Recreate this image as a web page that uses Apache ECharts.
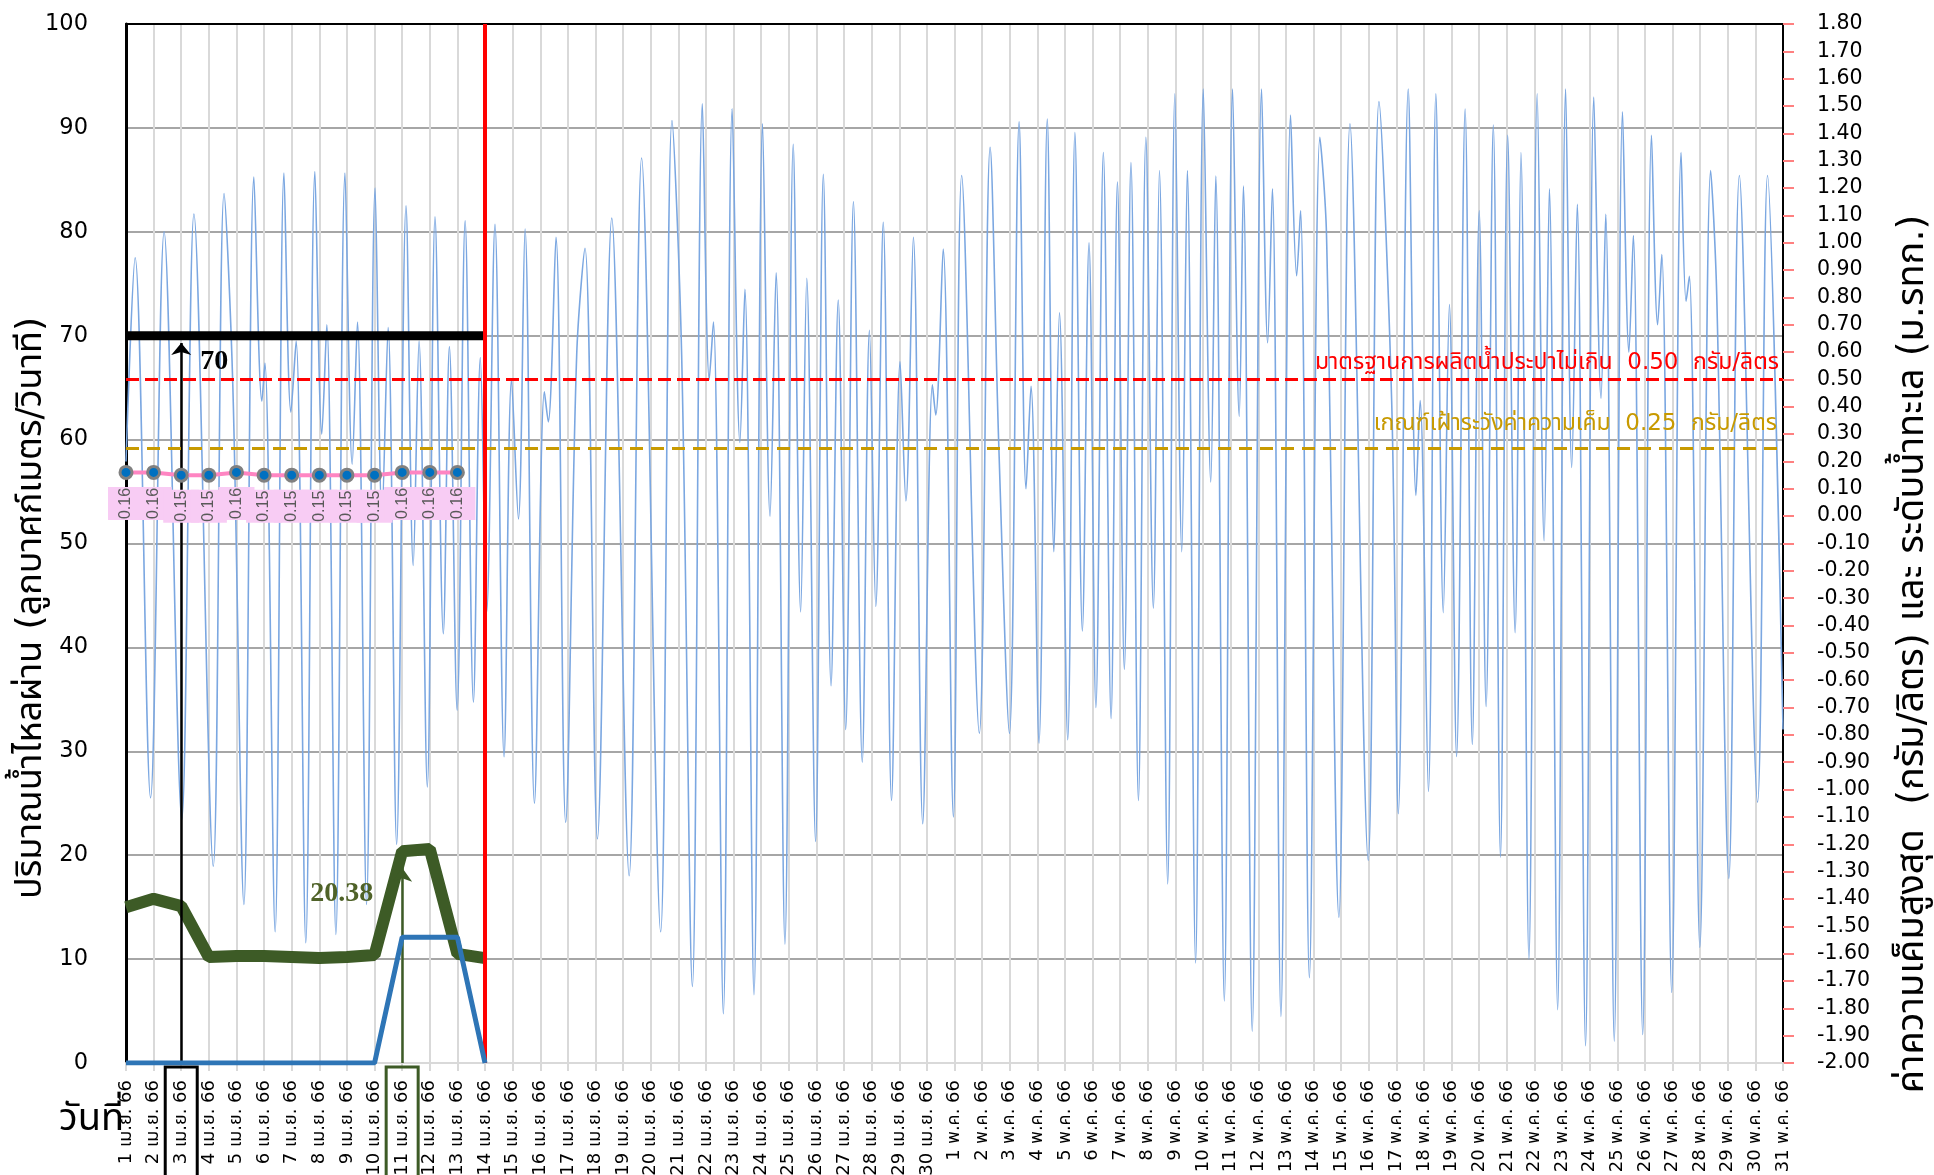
<!DOCTYPE html>
<html><head><meta charset="utf-8">
<script src="https://cdn.jsdelivr.net/npm/echarts@6/dist/echarts.min.js"></script>
<style>html,body{margin:0;padding:0;background:#fff}#c{width:1934px;height:1175px}</style>
</head><body><div id="c"></div>
<script>
// ---------- data ----------
const days = ['1 เม.ย. 66','2 เม.ย. 66','3 เม.ย. 66','4 เม.ย. 66','5 เม.ย. 66','6 เม.ย. 66','7 เม.ย. 66','8 เม.ย. 66','9 เม.ย. 66','10 เม.ย. 66',
'11 เม.ย. 66','12 เม.ย. 66','13 เม.ย. 66','14 เม.ย. 66','15 เม.ย. 66','16 เม.ย. 66','17 เม.ย. 66','18 เม.ย. 66','19 เม.ย. 66','20 เม.ย. 66',
'21 เม.ย. 66','22 เม.ย. 66','23 เม.ย. 66','24 เม.ย. 66','25 เม.ย. 66','26 เม.ย. 66','27 เม.ย. 66','28 เม.ย. 66','29 เม.ย. 66','30 เม.ย. 66',
'1 พ.ค. 66','2 พ.ค. 66','3 พ.ค. 66','4 พ.ค. 66','5 พ.ค. 66','6 พ.ค. 66','7 พ.ค. 66','8 พ.ค. 66','9 พ.ค. 66','10 พ.ค. 66',
'11 พ.ค. 66','12 พ.ค. 66','13 พ.ค. 66','14 พ.ค. 66','15 พ.ค. 66','16 พ.ค. 66','17 พ.ค. 66','18 พ.ค. 66','19 พ.ค. 66','20 พ.ค. 66',
'21 พ.ค. 66','22 พ.ค. 66','23 พ.ค. 66','24 พ.ค. 66','25 พ.ค. 66','26 พ.ค. 66','27 พ.ค. 66','28 พ.ค. 66','29 พ.ค. 66','30 พ.ค. 66','31 พ.ค. 66'];
const flow = [15.0, 15.8, 15.1, 10.2, 10.3, 10.3, 10.2, 10.1, 10.2, 10.4, 20.38, 20.6, 10.5, 10.1];
const release = [0, 0, 0, 0, 0, 0, 0, 0, 0, 0, 12.1, 12.1, 12.1, 0];
const salinity = [0.16, 0.16, 0.15, 0.15, 0.16, 0.15, 0.15, 0.15, 0.15, 0.15, 0.16, 0.16, 0.16];
const targetFlow = [70, 70, 70, 70, 70, 70, 70, 70, 70, 70, 70, 70, 70, 70];
const targetArrowTop = 69.3;
const flowArrowTop = 18.8;
const standardLimit = 0.50;
const watchLimit = 0.25;
const todayIndex = 13;
const targetIndex = 2;
const flowIndex = 10;
// sea level extrema (day offset from 1 Apr, level m MSL)
const tideDay = [0,0.33,0.89,1.38,2.02,2.46,3.16,3.55,3.87,4.27,4.63,4.92,5.03,5.40,5.72,5.97,6.16,6.51,6.84,7.09,7.27,7.60,7.93,8.19,8.38,8.71,
9.02,9.27,9.49,9.80,10.14,10.40,10.61,10.91,11.19,11.49,11.71,11.99,12.28,12.58,12.83,13.06,13.36,13.69,13.96,14.21,14.45,14.79,15.15,15.29,15.57,15.92,
16.32,16.62,17.07,17.59,18.22,18.67,19.36,19.77,20.12,20.51,20.87,21.12,21.27,21.63,21.95,22.23,22.41,22.74,23.05,23.32,23.54,23.86,24.16,24.43,24.65,24.97,
25.25,25.53,25.79,26.06,26.34,26.66,26.92,27.15,27.42,27.72,28.03,28.24,28.51,28.85,29.20,29.32,29.59,29.96,30.26,30.90,31.29,31.60,31.99,32.34,32.59,32.77,
33.06,33.36,33.60,33.80,34.10,34.36,34.63,34.87,35.12,35.39,35.67,35.90,36.15,36.39,36.66,36.93,37.20,37.42,37.72,37.98,38.23,38.43,38.73,39.01,39.28,39.46,
39.77,40.07,40.31,40.46,40.78,41.12,41.34,41.51,41.82,42.17,42.39,42.53,42.85,43.23,43.47,43.92,44.32,44.98,45.37,45.83,46.07,46.43,46.71,46.86,47.16,47.43,
47.70,47.92,48.18,48.49,48.75,49.00,49.25,49.51,49.77,50.03,50.30,50.51,50.80,51.10,51.35,51.54,51.84,52.13,52.35,52.55,52.85,53.15,53.41,53.58,53.89,54.19,
54.42,54.58,54.92,55.24,55.46,55.61,55.97,56.31,56.49,56.61,56.99,57.38,57.60,58.04,58.42,59.08,59.44,60.0];
const tideLevel = [0.20,0.945,-1.03,1.04,-1.11,1.105,-1.28,1.18,0.47,-1.42,1.24,0.42,0.56,-1.52,1.255,0.38,0.64,-1.56,1.26,0.30,0.70,-1.53,1.255,0.19,0.71,-1.42,
1.20,0.0,0.69,-1.20,1.135,-0.18,0.64,-0.99,1.095,-0.43,0.62,-0.71,1.08,-0.68,0.58,-0.35,1.067,-0.88,0.50,-0.01,1.05,-1.05,0.455,0.345,1.02,-1.12,
0.59,0.98,-1.18,1.09,-1.315,1.31,-1.52,1.447,0.59,-1.72,1.508,0.50,0.71,-1.82,1.49,0.27,0.83,-1.75,1.435,0.0,0.89,-1.565,1.36,-0.35,0.87,-1.19,
1.25,-0.62,0.79,-0.78,1.15,-0.90,0.68,-0.33,1.075,-1.04,0.565,0.056,1.02,-1.125,0.48,0.37,0.977,-1.10,1.246,-0.794,1.349,0.27,-0.794,1.442,0.10,0.475,
-0.83,1.452,-0.13,0.744,-0.818,1.403,-0.42,1.00,-0.70,1.33,-0.74,1.222,-0.56,1.293,-1.04,1.386,-0.336,1.264,-1.345,1.545,-0.13,1.264,-1.634,1.562,0.125,1.244,
-1.773,1.562,0.365,1.207,-1.884,1.562,0.634,1.197,-1.83,1.467,0.879,1.117,-1.688,1.386,1.031,-1.467,1.435,-1.259,1.516,0.42,-1.088,1.562,0.076,0.423,-1.007,1.545,
-0.353,0.774,-0.879,1.489,-0.835,1.117,-0.696,1.43,-1.247,1.393,-0.426,1.33,-1.62,1.545,-0.09,1.197,-1.805,1.562,0.178,1.141,-1.937,1.533,0.431,1.104,-1.92,1.479,
0.60,1.026,-1.896,1.393,0.70,0.957,-1.742,1.33,0.786,0.877,-1.577,1.264,0.81,-1.325,1.246,-1.046,1.246,-0.78];
const boxedLabels = {2: 'b', 10: 'g'};
const leftTitle = 'ปริมาณน้ำไหลผ่าน (ลูกบาศก์เมตร/วินาที)';
const rightTitle = 'ค่าความเค็มสูงสุด  (กรัม/ลิตร) และ ระดับน้ำทะเล (ม.รทก.)';
const dayTitle = 'วันที่';

// ---------- chart ----------
const FONT = "'DejaVu Sans', Tahoma, 'Noto Sans Thai', sans-serif";
const SERIF = "'Liberation Serif', 'Times New Roman', serif";
const tide = tideDay.map((d, i) => [d, tideLevel[i]]);
const chart = echarts.init(document.getElementById('c'), null, {renderer: 'canvas'});
const labelPad = [7, 13, 7, 40];
chart.setOption({
  animation: false,
  backgroundColor: '#ffffff',
  textStyle: {fontFamily: FONT},
  grid: {left: 126, right: 151, top: 24, bottom: 112, containLabel: false, outerBoundsMode: 'none'},
  xAxis: [{
    type: 'category', data: days, boundaryGap: false, position: 'bottom',
    axisLine: {show: true, lineStyle: {color: '#D9D9D9', width: 2}},
    axisTick: {show: true, length: 8, lineStyle: {color: '#D9D9D9', width: 2}},
    splitLine: {show: true, lineStyle: {color: '#D9D9D9', width: 2}},
    axisLabel: {
      interval: 0, rotate: 90, margin: 4, color: '#000', fontSize: 18, fontFamily: FONT,
      formatter: (v, i) => '{' + (boxedLabels[i] || 'n') + '|' + v + '}',
      rich: {
        n: {fontSize: 18, fontFamily: FONT, color: '#000', padding: labelPad},
        b: {fontSize: 18, fontFamily: FONT, color: '#000', padding: labelPad, borderColor: '#000', borderWidth: 3},
        g: {fontSize: 18, fontFamily: FONT, color: '#000', padding: labelPad, borderColor: '#3D5B26', borderWidth: 3}
      }
    }
  }, {
    type: 'value', min: 0, max: 60, position: 'top',
    axisLine: {show: true, onZero: false, lineStyle: {color: '#000', width: 2}},
    axisTick: {show: false}, axisLabel: {show: false}, splitLine: {show: false}
  }],
  yAxis: [{
    type: 'value', min: 0, max: 100, interval: 10, position: 'left',
    axisLine: {show: true, lineStyle: {color: '#000', width: 3}},
    axisTick: {show: false},
    axisLabel: {margin: 38, fontSize: 22.5, color: '#000', fontFamily: FONT},
    splitLine: {show: true, lineStyle: {color: '#A6A6A6', width: 2}}
  }, {
    type: 'value', min: -2.0, max: 1.8, interval: 0.1, position: 'right',
    axisLine: {show: true, lineStyle: {color: '#000', width: 2}},
    axisTick: {show: true, length: 11, lineStyle: {color: '#FF8080', width: 2}},
    axisLabel: {margin: 34, fontSize: 20.5, color: '#000', fontFamily: FONT,
      formatter: v => (Math.abs(v) < 1e-9 ? 0 : v).toFixed(2)},
    splitLine: {show: false}
  }],
  series: [{
    name: 'ระดับน้ำทะเล', type: 'line', xAxisIndex: 1, yAxisIndex: 1, data: tide,
    smooth: 0.35, symbol: 'none', lineStyle: {color: '#7BA7E1', width: 1.6}, z: 1
  }, {
    name: 'เป้าหมาย', type: 'line', data: targetFlow, symbol: 'none',
    lineStyle: {color: '#000', width: 9}, z: 3,
    markLine: {silent: true, symbol: ['none', 'arrow'], symbolSize: [15, 12],
      lineStyle: {color: '#000', width: 2.5, type: 'solid'}, label: {show: false},
      data: [[{coord: [targetIndex, 0]}, {coord: [targetIndex, targetArrowTop]}]]},
    markPoint: {silent: true, symbolSize: 0,
      data: [{coord: [targetIndex, targetFlow[targetIndex]], value: targetFlow[targetIndex]}],
      label: {show: true, position: 'right', distance: 19, offset: [0, 26], formatter: p => String(p.value),
        color: '#000', fontSize: 28, fontWeight: 'bold', fontFamily: SERIF}}
  }, {
    name: 'ปริมาณน้ำไหลผ่าน', type: 'line', data: flow, symbol: 'none',
    lineStyle: {color: '#3D5B26', width: 12}, z: 4,
    markLine: {silent: true, symbol: ['none', 'arrow'], symbolSize: [15, 14],
      lineStyle: {color: '#3D5B26', width: 2.5, type: 'solid'}, label: {show: false},
      data: [[{coord: [flowIndex, 0]}, {coord: [flowIndex, flowArrowTop]}]]},
    markPoint: {silent: true, symbolSize: 0,
      data: [{coord: [flowIndex, flow[flowIndex]], value: flow[flowIndex]}],
      label: {show: true, position: 'left', distance: 29, offset: [0, 43], formatter: p => p.value.toFixed(2),
        color: '#4F6228', fontSize: 28, fontWeight: 'bold', fontFamily: SERIF}}
  }, {
    name: 'ปล่อยน้ำ', type: 'line', data: release, symbol: 'none',
    lineStyle: {color: '#2E75B6', width: 5}, z: 5
  }, {
    name: 'ค่าความเค็มสูงสุด', type: 'line', yAxisIndex: 1, data: salinity,
    symbol: 'circle', symbolSize: 12,
    itemStyle: {color: '#0070C0', borderColor: '#808080', borderWidth: 3},
    lineStyle: {color: '#FF85C2', width: 4}, z: 6,
    label: {show: true, rotate: 90, position: 'bottom', distance: 7, align: 'right', verticalAlign: 'middle',
      formatter: p => p.value.toFixed(2), color: '#595959', fontSize: 16,
      fontFamily: "'Liberation Sans Narrow', 'Liberation Sans', Arial, sans-serif",
      backgroundColor: '#F8CCF4', padding: [10, 1, 10, 1]},
    markLine: {silent: true, symbol: 'none',
      data: [
        {yAxis: standardLimit, lineStyle: {color: '#FF0000', width: 3, type: [13, 6]},
          label: {show: true, position: 'insideEndTop', distance: [4, 5], color: '#FF0000', fontSize: 23, fontFamily: FONT,
            formatter: 'มาตรฐานการผลิตน้ำประปาไม่เกิน  ' + standardLimit.toFixed(2) + '  กรัม/ลิตร'}},
        {yAxis: watchLimit, lineStyle: {color: '#C89A00', width: 3, type: [13, 8]},
          label: {show: true, position: 'insideEndTop', distance: [6, 12], color: '#C89A00', fontSize: 23, fontFamily: FONT,
            formatter: 'เกณฑ์เฝ้าระวังค่าความเค็ม  ' + watchLimit.toFixed(2) + '  กรัม/ลิตร'}}
      ]}
  }, {
    name: 'วันนี้', type: 'line', data: [], z: 7,
    markLine: {silent: true, symbol: 'none', label: {show: false},
      lineStyle: {color: '#FF0000', width: 4, type: 'solid'},
      data: [{xAxis: todayIndex}]}
  }],
  graphic: [
    {type: 'text', x: 32, y: 608, rotation: Math.PI / 2, silent: true,
      style: {text: leftTitle, font: '36px ' + FONT, fill: '#000', align: 'center', verticalAlign: 'middle'}},
    {type: 'text', x: 1913, y: 654, rotation: Math.PI / 2, silent: true,
      style: {text: rightTitle, font: '38px ' + FONT, fill: '#000', align: 'center', verticalAlign: 'middle'}},
    {type: 'text', x: 59, y: 1120, silent: true,
      style: {text: dayTitle, font: '38px ' + FONT, fill: '#000', align: 'left', verticalAlign: 'middle'}}
  ]
});
</script></body></html>
